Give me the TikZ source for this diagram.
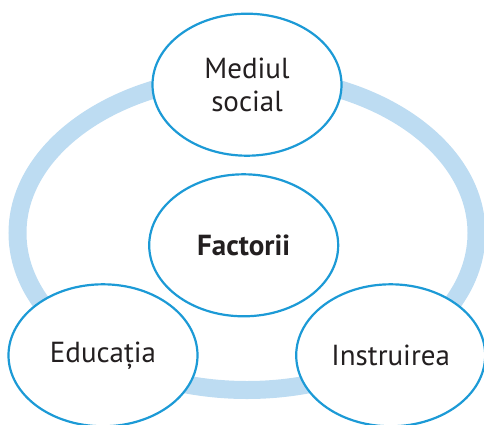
\documentclass[tikz,border=0pt]{standalone}
\usepackage{fontspec}
\setmainfont{PT Sans}
\usetikzlibrary{shapes.geometric}
\definecolor{ringblue}{HTML}{BDDCF2}
\definecolor{lineblue}{HTML}{1C9AD6}
\definecolor{txt}{HTML}{231F20}
\tikzset{
  factor/.style={ellipse, draw=lineblue, line width=2.2pt, fill=white,
    minimum width=189pt, minimum height=142pt, inner sep=0pt,
    align=center, text=txt, font=\fontsize{29}{33}\selectfont}
}
\begin{document}
\begin{tikzpicture}[x=1pt,y=-1pt]
\useasboundingbox (0,0) rectangle (484,424);
\clip (0,0) rectangle (484,424);
\draw[ringblue, line width=18pt] (247,233) ellipse [x radius=229.5, y radius=157];
\node[factor] (top) at (247,84.7) {Mediul\\social};
\node[factor, font=\fontsize{29}{33}\selectfont\bfseries] (mid) at (243.7,245.3) {Factorii};
\node[factor] (left) at (103,355.3) {Educa\char"021B ia};
\node[factor] (right) at (390.7,355.3) {Instruirea};
\end{tikzpicture}
\end{document}
